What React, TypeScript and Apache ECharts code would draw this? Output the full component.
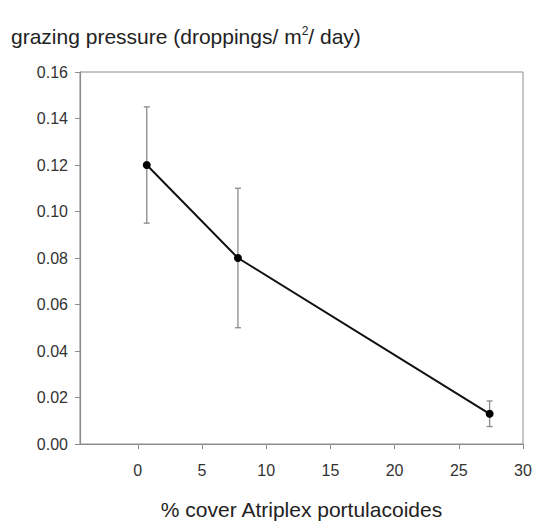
import React, { useEffect, useRef } from "react";
import * as echarts from "echarts";

const coverValues = [0.7, 7.8, 27.4];
const pressureValues = [0.12, 0.08, 0.013];
const errorValues = [0.025, 0.03, 0.0055];
const xTickValues = [0, 5, 10, 15, 20, 25, 30];
const yTickValues = [0, 0.02, 0.04, 0.06, 0.08, 0.1, 0.12, 0.14, 0.16];

const FONT = "'Liberation Sans', Arial, sans-serif";
const AXIS_GRAY = "#8c8c8c";

export default function App() {
  const ref = useRef<HTMLDivElement>(null);
  useEffect(() => {
    if (!ref.current) return;
    const chart = echarts.init(ref.current, undefined, { renderer: "svg" });
    const points = coverValues.map((x, i) => [x, pressureValues[i]]);
    const errData = coverValues.map((x, i) => [x, pressureValues[i] - errorValues[i], pressureValues[i] + errorValues[i]]);
    chart.setOption({
      animation: false,
      backgroundColor: "#ffffff",
      title: {
        text: "grazing pressure (droppings/ m{sup|2}/ day)",
        left: 6,
        top: 20,
        textStyle: {
          fontFamily: FONT,
          fontSize: 21,
          fontWeight: "normal",
          color: "#222",
          rich: {
            sup: { fontFamily: FONT, fontSize: 12, color: "#222", padding: [0, 0, 11, 0] },
          },
        },
      },
      grid: {
        left: 80,
        top: 72,
        right: 10,
        bottom: 80,
        show: true,
        borderColor: AXIS_GRAY,
        borderWidth: 1,
        outerBoundsMode: "none",
        containLabel: false,
      },
      xAxis: {
        type: "value",
        min: -4.5,
        max: 30,
        name: "% cover Atriplex portulacoides",
        nameLocation: "middle",
        nameGap: 55,
        nameTextStyle: { fontFamily: FONT, fontSize: 21, color: "#222" },
        axisLine: { show: true, onZero: false, lineStyle: { color: AXIS_GRAY, width: 1.2 } },
        axisTick: { show: true, length: 5, lineStyle: { color: AXIS_GRAY }, customValues: xTickValues },
        axisLabel: {
          fontFamily: FONT,
          fontSize: 16,
          color: "#333",
          margin: 18,
          customValues: xTickValues,
        },
        splitLine: { show: false },
      },
      yAxis: {
        type: "value",
        min: 0,
        max: 0.16,
        interval: 0.02,
        axisLine: { show: true, onZero: false, lineStyle: { color: AXIS_GRAY, width: 1.2 } },
        axisTick: { show: true, length: 5, lineStyle: { color: AXIS_GRAY }, customValues: yTickValues },
        axisLabel: {
          fontFamily: FONT,
          fontSize: 16,
          color: "#333",
          margin: 12,
          formatter: (v: number) => v.toFixed(2),
        },
        splitLine: { show: false },
      },
      series: [
        {
          type: "custom",
          data: errData,
          renderItem: (params: any, api: any) => {
            const x = api.value(0);
            const lo = api.coord([x, api.value(1)]);
            const hi = api.coord([x, api.value(2)]);
            const cap = 3;
            const style = { stroke: "#8a8a8a", lineWidth: 1.3 };
            return {
              type: "group",
              children: [
                { type: "line", shape: { x1: lo[0], y1: lo[1], x2: hi[0], y2: hi[1] }, style },
                { type: "line", shape: { x1: lo[0] - cap, y1: lo[1], x2: lo[0] + cap, y2: lo[1] }, style },
                { type: "line", shape: { x1: hi[0] - cap, y1: hi[1], x2: hi[0] + cap, y2: hi[1] }, style },
              ],
            };
          },
          z: 1,
        },
        {
          type: "line",
          data: points,
          symbol: "circle",
          symbolSize: 8,
          itemStyle: { color: "#000" },
          lineStyle: { color: "#111", width: 2 },
          z: 3,
        },
      ],
    });
    return () => chart.dispose();
  }, []);
  return <div ref={ref} style={{ width: 533, height: 524, position: "absolute", left: 0, top: 0 }} />;
}
